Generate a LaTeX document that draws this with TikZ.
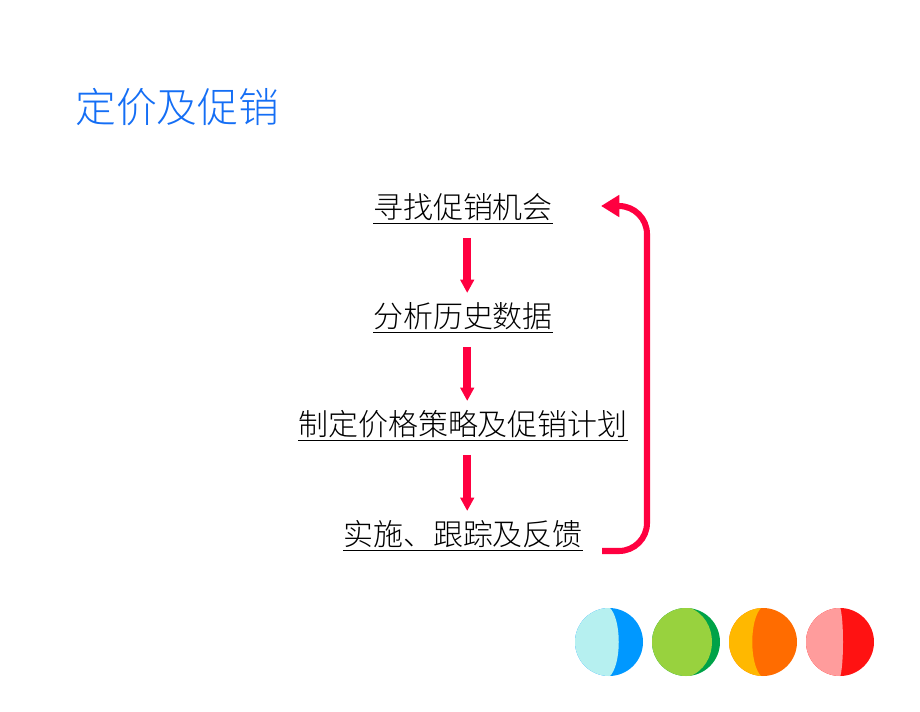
\documentclass[tikz,border=0pt]{standalone}
\usepackage{fontspec}
\setmainfont{Noto Sans CJK SC}[UprightFont=* Light]
\usepackage{tikz}
\usetikzlibrary{arrows.meta}
\definecolor{promored}{RGB}{255,0,64}
\definecolor{titleblue}{RGB}{20,110,245}
\definecolor{balllightblue}{RGB}{182,240,240}
\definecolor{ballblue}{RGB}{0,152,255}
\definecolor{balllightgreen}{RGB}{152,210,62}
\definecolor{ballgreen}{RGB}{0,162,72}
\definecolor{ballyellow}{RGB}{255,184,0}
\definecolor{ballorange}{RGB}{255,108,0}
\definecolor{ballpink}{RGB}{255,156,156}
\definecolor{ballred}{RGB}{255,18,18}

\begin{document}
\begin{tikzpicture}[x=0.025cm, y=-0.025cm]
	\useasboundingbox (0,0) rectangle (920,711);
	\node[anchor=west, inner sep=0, text=titleblue, font=\fontsize{29}{32}\selectfont] (title) at (75,107) {定价及促销};

	\begin{scope}[every node/.style={inner sep=1pt, font=\fontsize{21.3}{24}\selectfont}]
	\node (s1) at (463,209) {\underline{寻找促销机会}};
	\node (s2) at (463,318) {\underline{分析历史数据}};
	\node (s3) at (463,426) {\underline{制定价格策略及促销计划}};
	\node (s4) at (463,536) {\underline{实施、跟踪及反馈}};
	\coordinate (fbstart) at (602,551);
	\coordinate (fbend) at (601,206);
	\end{scope}

	\draw[-{Triangle[width=9.5pt, length=9.5pt]}, line width=5.7pt, promored, shorten <=20.6pt, shorten >=17.8pt] ([xshift=3pt]s1.center) -- ([xshift=3pt]s2.center);
	\draw[-{Triangle[width=9.5pt, length=9.5pt]}, line width=5.7pt, promored, shorten <=20.6pt, shorten >=17.8pt] ([xshift=3pt]s2.center) -- ([xshift=3pt]s3.center);
	\draw[-{Triangle[width=9.5pt, length=9.5pt]}, line width=5.7pt, promored, shorten <=20.6pt, shorten >=17.8pt] ([xshift=3pt]s3.center) -- ([xshift=3pt]s4.center);

	\draw[-{Triangle[width=15pt, length=13pt]}, line width=4.3pt, promored, rounded corners=20pt] (fbstart) -- (647,551) -- (647,206) -- (fbend);

%	balls
	\begin{scope}
	\clip (609,642) circle (34);
	\fill[ballblue] (574,607) rectangle (644,677);
	\fill[balllightblue] (609,607) .. controls (622,618) and (622,666) .. (609,677) -- (574,677) -- (574,607) -- cycle;
	\end{scope}
	\begin{scope}
	\clip (686,642) circle (34);
	\fill[ballgreen] (651,607) rectangle (721,677);
	\fill[balllightgreen] (688,607) .. controls (720,618) and (720,666) .. (688,677) -- (651,677) -- (651,607) -- cycle;
	\end{scope}
	\begin{scope}
	\clip (763,642) circle (34);
	\fill[ballorange] (728,607) rectangle (798,677);
	\fill[ballyellow] (762,607) .. controls (749,618) and (749,666) .. (762,677) -- (728,677) -- (728,607) -- cycle;
	\end{scope}
	\begin{scope}
	\clip (840,642) circle (34);
	\fill[ballred] (805,607) rectangle (875,677);
	\fill[ballpink] (840,607) .. controls (844,618) and (844,666) .. (840,677) -- (805,677) -- (805,607) -- cycle;
	\end{scope}
\end{tikzpicture}
\end{document}
